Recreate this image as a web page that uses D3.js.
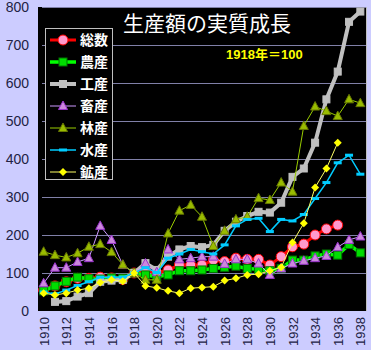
<!DOCTYPE html>
<html>
<head>
<meta charset="utf-8">
<script src="https://cdn.jsdelivr.net/npm/d3@7/dist/d3.min.js"></script>
<style>
  html, body { margin: 0; padding: 0; background: #ccccff; }
  svg { display: block; }
</style>
</head>
<body>
<svg id="chart" width="371" height="350"></svg>
<script>
// Real output growth by sector, index 1918 = 100
const years = d3.range(1910, 1939);
const yTicks = [0, 100, 200, 300, 400, 500, 600, 700, 800];
const xTickYears = [1910, 1912, 1914, 1916, 1918, 1920, 1922, 1924, 1926, 1928, 1930, 1932, 1934, 1936, 1938];

const total      = [55, 66, 77, 86, 86, 89, 87, 83, 100, 108, 100, 108, 121, 121, 121, 134, 130, 139, 136, 136, 121, 143, 169, 176, 200, 216, 226, null, null];
const agriculture= [53, 66, 78, 89, 85, 84, 87, 86, 100, 95, 90, 95, 106, 106, 108, 112, 115, 118, 112, 110, 106, 112, 134, 134, 145, 150, 147, 175, 153];
const industry   = [null, 24, 26, 38, 47, 77, 80, 82, 100, 126, 108, 143, 162, 171, 168, 174, 211, 235, 250, 261, 259, 285, 353, 375, 443, 557, 630, 761, 788];
const livestock  = [73, 114, 114, 129, 139, 224, 187, 121, 100, 125, 102, 162, 136, 139, 143, 143, 124, 136, 136, 125, 95, 112, 125, 132, 139, 145, 168, 187, 196];
const forestry   = [156, 147, 141, 152, 169, 176, 155, 122, 100, 82, 82, 204, 264, 279, 248, 171, 211, 241, 248, 297, 292, 338, 314, 487, 538, 526, 513, 557, 547];
const fishery    = [50, 45, 55, 67, 77, 89, 89, 89, 100, 114, 101, 139, 150, 162, 156, 150, 174, 224, 241, 244, 209, 241, 237, 254, 296, 338, 390, 410, 360];
const mining     = [47, 42, 47, 55, 60, 75, 82, 78, 100, 66, 61, 53, 47, 60, 62, 64, 80, 86, 95, 97, 106, 115, 180, 231, 325, 375, 443, null, null];

const seriesNames = ["総数", "農産", "工産", "畜産", "林産", "水産", "鉱産"];

const series = [
  { name: seriesNames[0], values: total,       line: "#ff0000", width: 3,   marker: "circle",  fill: "#ff99cc", stroke: "#ff0000" },
  { name: seriesNames[1], values: agriculture, line: "#00ff00", width: 3.5, marker: "square",  fill: "#00dd00", stroke: "#007700", size: 8 },
  { name: seriesNames[2], values: industry,    line: "#c0c0c0", width: 4,   marker: "square",  fill: "#c0c0c0", stroke: "#c0c0c0", size: 7 },
  { name: seriesNames[3], values: livestock,   line: "#cc99ff", width: 1,   marker: "triangle",fill: "#cc88dd", stroke: "#9933cc" },
  { name: seriesNames[4], values: forestry,    line: "#99cc00", width: 1,   marker: "triangle",fill: "#99bb00", stroke: "#667700" },
  { name: seriesNames[5], values: fishery,     line: "#00ccff", width: 1.5, marker: "dash",    fill: "#00ccff", stroke: "#00ccff" },
  { name: seriesNames[6], values: mining,      line: "#ffff66", width: 1,   marker: "diamond", fill: "#ffff00", stroke: "#ffff00" }
];

const svg = d3.select("#chart");
const plot = { left: 38, right: 366, top: 7, bottom: 311 };

const x = d3.scalePoint().domain(years).range([plot.left, plot.right]).padding(0.5);
const y = d3.scaleLinear().domain([0, 800]).range([plot.bottom, plot.top]);

// plot background
svg.append("rect")
  .attr("x", plot.left).attr("y", plot.top)
  .attr("width", plot.right - plot.left).attr("height", plot.bottom - plot.top)
  .attr("fill", "#000");

// horizontal gridlines
svg.append("g")
  .selectAll("line")
  .data(yTicks.filter(d => d > 0))
  .join("line")
  .attr("x1", plot.left + 4).attr("x2", plot.right)
  .attr("y1", d => Math.round(y(d)) + 0.5).attr("y2", d => Math.round(y(d)) + 0.5)
  .attr("stroke", "#8080a8").attr("stroke-width", 1);

// right border of plot
svg.append("line")
  .attr("x1", plot.right + 0.5).attr("x2", plot.right + 0.5)
  .attr("y1", plot.top).attr("y2", plot.bottom)
  .attr("stroke", "#c0c0c0").attr("stroke-width", 1);

// y axis
const yAxis = d3.axisLeft(y).tickValues(yTicks).tickSize(0).tickPadding(9);
const gy = svg.append("g").attr("transform", `translate(${plot.left},0)`).call(yAxis);
gy.select(".domain").remove();
gy.selectAll("text")
  .attr("font-family", "Liberation Sans, Arial, sans-serif")
  .attr("font-size", 14).attr("fill", "#222244");

// x axis, labels rotated
const xAxis = d3.axisBottom(x).tickValues(xTickYears).tickSize(0).tickPadding(6);
const gx = svg.append("g").attr("transform", `translate(0,${plot.bottom})`).call(xAxis);
gx.select(".domain").remove();
gx.selectAll("text")
  .attr("font-family", "Liberation Sans, Arial, sans-serif")
  .attr("font-size", 13).attr("fill", "#222244")
  .attr("transform", "rotate(-90)")
  .attr("text-anchor", "end")
  .attr("x", -6).attr("y", 0).attr("dy", "0.35em");

// marker drawing
function drawMarker(sel, s) {
  if (s.marker === "circle") {
    sel.append("circle").attr("r", 5).attr("fill", s.fill).attr("stroke", s.stroke).attr("stroke-width", 1);
  } else if (s.marker === "square") {
    const h = s.size / 2;
    sel.append("rect").attr("x", -h).attr("y", -h).attr("width", s.size).attr("height", s.size)
      .attr("fill", s.fill).attr("stroke", s.stroke).attr("stroke-width", 1);
  } else if (s.marker === "triangle") {
    sel.append("path").attr("d", "M0,-5L4.5,3.5L-4.5,3.5Z")
      .attr("fill", s.fill).attr("stroke", s.stroke).attr("stroke-width", 1);
  } else if (s.marker === "dash") {
    sel.append("rect").attr("x", -4).attr("y", -1.5).attr("width", 8).attr("height", 3).attr("fill", s.fill);
  } else if (s.marker === "diamond") {
    sel.append("path").attr("d", "M0,-4L4,0L0,4L-4,0Z").attr("fill", s.fill);
  }
}

const line = d3.line()
  .defined(d => d.v != null)
  .x(d => x(d.year))
  .y(d => y(d.v));

const gSeries = svg.append("g");
series.forEach(s => {
  const pts = years.map((yr, i) => ({ year: yr, v: s.values[i] }));
  const g = gSeries.append("g");
  g.append("path").datum(pts)
    .attr("d", line).attr("fill", "none")
    .attr("stroke", s.line).attr("stroke-width", s.width)
    .attr("stroke-linejoin", "miter");
  g.selectAll("g.mk").data(pts.filter(d => d.v != null)).join("g")
    .attr("class", "mk")
    .attr("transform", d => `translate(${x(d.year)},${y(d.v)})`)
    .each(function () { drawMarker(d3.select(this), s); });
});

// title and base-year note
svg.append("text")
  .attr("x", 123).attr("y", 31)
  .attr("font-family", "Noto Sans CJK JP, sans-serif")
  .attr("font-size", 21).attr("fill", "#ffffff")
  .text("生産額の実質成長");

svg.append("text")
  .attr("x", 226).attr("y", 59)
  .attr("font-family", "Liberation Sans, Noto Sans CJK JP, sans-serif")
  .attr("font-weight", "bold")
  .attr("font-size", 13).attr("fill", "#ffff00")
  .text("1918年＝100");

// legend
const legend = svg.append("g");
legend.append("rect")
  .attr("x", 45.5).attr("y", 28.5).attr("width", 67).attr("height", 151)
  .attr("fill", "#000").attr("stroke", "#c0c0c0").attr("stroke-width", 1);

series.forEach((s, i) => {
  const cy = 40 + i * 22;
  const item = legend.append("g");
  item.append("line").attr("x1", 50).attr("x2", 76).attr("y1", cy).attr("y2", cy)
    .attr("stroke", s.line).attr("stroke-width", s.width);
  const m = item.append("g").attr("transform", `translate(63,${cy})`);
  drawMarker(m, s);
  item.append("text")
    .attr("x", 80).attr("y", cy).attr("dy", "0.36em")
    .attr("font-family", "Noto Sans CJK JP, sans-serif")
    .attr("font-weight", "bold").attr("font-size", 14)
    .attr("fill", "#ffffff")
    .text(s.name);
});
</script>
</body>
</html>
